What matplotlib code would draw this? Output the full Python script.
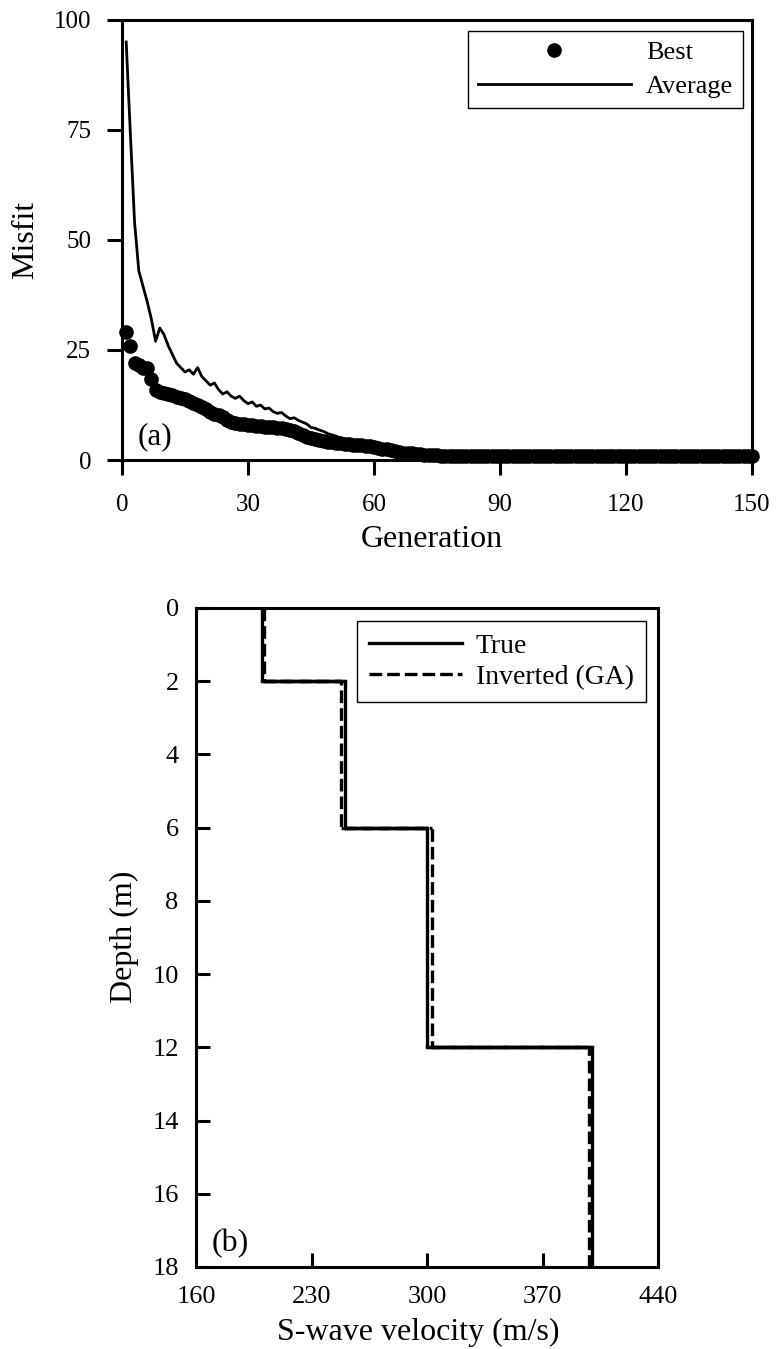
import numpy as np
import matplotlib
matplotlib.use('Agg')
import matplotlib.pyplot as plt

plt.rcParams['font.family'] = ['Liberation Serif', 'DejaVu Serif']

# (a) misfit vs generation
generation = list(range(1, 151))
best = [29, 26, 22, 21.5, 21, 21, 18.5, 16, 15.5, 15.3,
        15, 14.7, 14.4, 14.1, 13.8, 13.4, 13, 12.5, 12, 11.5,
        11, 10.5, 10.2, 9.8, 9.2, 8.6, 8.3, 8.2, 8.1, 8.0,
        7.9, 7.8, 7.7, 7.6, 7.5, 7.4, 7.3, 7.2, 7.0, 6.8,
        6.5, 6.1, 5.6, 5.2, 5.0, 4.8, 4.6, 4.4, 4.2, 4.0,
        3.9, 3.8, 3.7, 3.6, 3.5, 3.4, 3.3, 3.2, 3.1, 3.0,
        2.8, 2.6, 2.4, 2.2, 2.0, 1.9, 1.7, 1.6, 1.5, 1.4,
        1.3, 1.2, 1.15, 1.1, 1.05, 1.0, 1.0, 0.95, 0.95, 0.9,
        0.9, 0.9, 0.9, 0.9, 0.9, 0.9, 0.9, 0.9, 0.85, 0.85,
        0.85, 0.85, 0.85, 0.85, 0.85, 0.85, 0.85, 0.85, 0.85, 0.85,
        0.8, 0.8, 0.8, 0.8, 0.8, 0.8, 0.8, 0.8, 0.8, 0.8,
        0.8, 0.8, 0.8, 0.8, 0.8, 0.8, 0.8, 0.8, 0.8, 0.8,
        0.8, 0.8, 0.8, 0.8, 0.8, 0.8, 0.8, 0.8, 0.8, 0.8,
        0.8, 0.8, 0.8, 0.8, 0.8, 0.8, 0.8, 0.8, 0.8, 0.8,
        0.8, 0.8, 0.8, 0.8, 0.8, 0.8, 0.8, 0.8, 0.8, 0.8]
average = [95, 74, 54, 43, 39.5, 36, 32, 27, 30, 28.5,
           26, 24, 22, 21, 20, 20.5, 19.5, 21, 19, 18,
           17, 17.5, 16, 15, 15.5, 14.5, 14, 14.5, 13.5, 12.8,
           13.2, 12.2, 12.5, 11.6, 11.8, 11, 10.6, 10.8, 10, 9.4,
           9.6, 9, 8.6, 8.2, 7.4, 7.2, 6.8, 6.5, 6, 5.7,
           5.4, 5.0, 4.6, 4.3, 4.0, 3.8, 3.6, 3.4, 3.2, 3.0,
           2.8, 2.6, 2.4, 2.2, 2.0, 1.9, 1.7, 1.6, 1.5, 1.4,
           1.3, 1.25, 1.2, 1.15, 1.1, 1.05, 1.0, 1.0, 0.95, 0.95,
           0.95, 0.95, 0.9, 0.9, 0.9, 0.9, 0.9, 0.9, 0.9, 0.9,
           0.9, 0.9, 0.9, 0.9, 0.9, 0.9, 0.9, 0.9, 0.9, 0.9,
           0.9, 0.9, 0.9, 0.9, 0.9, 0.9, 0.9, 0.9, 0.9, 0.9,
           0.9, 0.9, 0.9, 0.9, 0.9, 0.9, 0.9, 0.9, 0.9, 0.9,
           0.9, 0.9, 0.9, 0.9, 0.9, 0.9, 0.9, 0.9, 0.9, 0.9,
           0.9, 0.9, 0.9, 0.9, 0.9, 0.9, 0.9, 0.9, 0.9, 0.9,
           0.9, 0.9, 0.9, 0.9, 0.9, 0.9, 0.9, 0.9, 0.9, 0.9]

# (b) layered S-wave velocity profile
layer_tops = [0, 2, 6, 12]
layer_bottoms = [2, 6, 12, 18]
vs_true = [200, 250, 300, 400]
vs_ga = [201, 248, 303, 398]

fig = plt.figure(figsize=(7.77, 13.49), dpi=100)

# ---- top panel ----
ax1 = fig.add_axes([0.157, 0.659, 0.8108, 0.3262])
ax1.plot(generation, best, 'o', color='black', markersize=9.5, clip_on=False,
         label='Best', zorder=2)
ax1.plot(generation, average, '-', color='black', linewidth=2.0,
         label='Average', zorder=3)
ax1.set_xlim(0, 150)
ax1.set_ylim(0, 100)
ax1.set_xticks([0, 30, 60, 90, 120, 150])
ax1.set_yticks([0, 25, 50, 75, 100])
ax1.tick_params(direction='out', length=10.8, width=2.2, labelsize=18,
                top=False, right=False)
ax1.tick_params(axis='x', pad=14)
ax1.tick_params(axis='y', pad=11.5)
for s in ax1.spines.values():
    s.set_linewidth(2.2)
leg1 = ax1.legend(loc='upper right', bbox_to_anchor=(0.9857, 0.975),
                  borderaxespad=0, fontsize=19, handlelength=5.8,
                  handletextpad=0.57, labelspacing=0.4, borderpad=0.37,
                  fancybox=False, edgecolor='black', framealpha=1)
leg1.get_frame().set_linewidth(1.0)
ax1.text(0.025, 0.053, '(a)', transform=ax1.transAxes, fontsize=22.5,
         ha='left', va='center')
fig.text(432 / 777, 1 - 547 / 1349, 'Generation', fontsize=23,
         ha='center', va='baseline')
fig.text(25.5 / 777, 1 - 240 / 1349, 'Misfit', fontsize=23, rotation=90,
         ha='center', va='center')

# ---- bottom panel ----
ax2 = fig.add_axes([0.2523, 0.0608, 0.5946, 0.4885])
depth_steps = np.column_stack([layer_tops, layer_bottoms]).ravel()
ax2.plot(np.repeat(vs_ga, 2), depth_steps, color='black', linewidth=2.4,
         dashes=(3.8, 1.5), label='Inverted (GA)', zorder=2)
ax2.plot(np.repeat(vs_true, 2), depth_steps, color='black', linewidth=2.4,
         label='True', zorder=3)
# horizontal jumps between layers
for i in range(len(vs_true) - 1):
    ax2.plot([vs_ga[i], vs_ga[i + 1]], [layer_bottoms[i]] * 2, color='black',
             linewidth=2.4, dashes=(3.8, 1.5), zorder=2)
    ax2.plot([vs_true[i], vs_true[i + 1]], [layer_bottoms[i]] * 2,
             color='black', linewidth=2.4, zorder=3)
ax2.set_xlim(160, 440)
ax2.set_ylim(18, 0)
ax2.set_xticks([160, 230, 300, 370, 440])
ax2.set_yticks(list(range(0, 19, 2)))
ax2.tick_params(direction='in', length=10, width=2.2, labelsize=19,
                top=False, right=False)
ax2.tick_params(axis='x', pad=14)
ax2.tick_params(axis='y', pad=12.5)
for s in ax2.spines.values():
    s.set_linewidth(2.2)
h, l = ax2.get_legend_handles_labels()
leg2 = ax2.legend([h[1], h[0]], [l[1], l[0]], loc='upper right',
                  bbox_to_anchor=(0.973, 0.980), borderaxespad=0, fontsize=20,
                  handlelength=3.35, handletextpad=0.5, labelspacing=0.22,
                  borderpad=0.43, fancybox=False, edgecolor='black',
                  framealpha=1)
leg2.get_frame().set_linewidth(1.0)
ax2.text(0.034, 0.036, '(b)', transform=ax2.transAxes, fontsize=23,
         ha='left', va='center')
fig.text(418 / 777, 9 / 1349, 'S-wave velocity (m/s)', fontsize=23,
         ha='center', va='baseline')
fig.text(124.5 / 777, 1 - 937 / 1349, 'Depth (m)', fontsize=23, rotation=90,
         ha='center', va='center')

fig.savefig('out.png', dpi=100)
